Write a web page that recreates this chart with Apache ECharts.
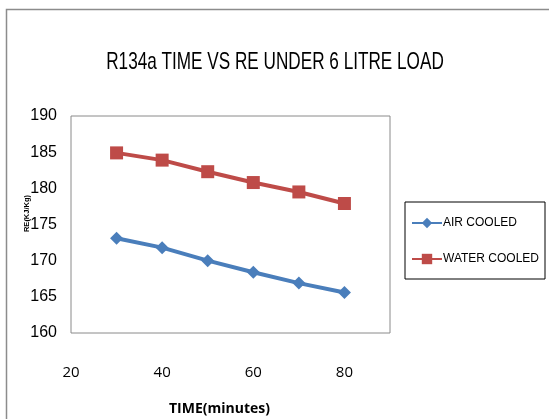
<!DOCTYPE html>
<html><head><meta charset="utf-8">
<script src="https://cdn.jsdelivr.net/npm/echarts@6/dist/echarts.min.js"></script>
<style>html,body{margin:0;padding:0;background:#fff}#c{width:549px;height:419px}</style>
</head><body><div id="c"></div>
<script>
const timeMinutes = [30, 40, 50, 60, 70, 80];
const airCooled = [173.1, 171.8, 170.0, 168.4, 166.9, 165.6];
const waterCooled = [184.9, 183.9, 182.3, 180.8, 179.5, 177.9];
const seriesNames = ['AIR COOLED', 'WATER COOLED'];
const titleText = 'R134a TIME VS RE UNDER 6 LITRE LOAD';

const chart = echarts.init(document.getElementById('c'));
const sans = '"Liberation Sans", Arial, sans-serif';
const humanist = '"Open Sans", "Liberation Sans", sans-serif';
chart.setOption({
  animation: false,
  backgroundColor: '#fff',
  graphic: [{
    type: 'rect', shape: {x: 6.5, y: 9.5, width: 600, height: 500},
    style: {fill: 'none', stroke: '#8c8c8c', lineWidth: 1.5}, silent: true, z: -1
  }, {
    type: 'text', x: 275, y: 62, scaleX: 0.715, silent: true,
    style: {text: titleText, fontFamily: sans, fontSize: 24, fill: '#000', align: 'center', verticalAlign: 'middle'}
  }],
  grid: {left: 71, right: 159, top: 116, bottom: 86, outerBoundsMode: 'none', containLabel: false,
    show: true, borderColor: '#8a8a8a', borderWidth: 1, backgroundColor: '#fff'},
  legend: {
    orient: 'vertical', left: 405, top: 202,
    padding: [15, 6, 14, 6], itemGap: 24,
    borderColor: '#000', borderWidth: 1,
    itemWidth: 30, itemHeight: 13,
    textStyle: {fontFamily: sans, fontSize: 12, color: '#000', padding: [0, 0, 0, -4]},
    data: seriesNames
  },
  xAxis: {
    type: 'value', min: 20, max: 90, interval: 20,
    name: 'TIME(minutes)', nameLocation: 'middle', nameGap: 69, nameMoveOverlap: false,
    nameTextStyle: {fontFamily: humanist, fontSize: 14, fontWeight: 'bold', color: '#000', padding: [0, 22, 0, 0]},
    axisLine: {show: false}, axisTick: {show: false}, splitLine: {show: false},
    axisLabel: {fontFamily: humanist, fontSize: 15, color: '#000', margin: 32, showMaxLabel: false}
  },
  yAxis: {
    type: 'value', min: 160, max: 190, interval: 5,
    name: 'RE(KJ/Kg)', nameLocation: 'middle', nameGap: 40, nameRotate: 90, nameMoveOverlap: false,
    nameTextStyle: {fontFamily: sans, fontSize: 7.5, fontWeight: 'bold', color: '#000', padding: [0, 0, 0, 22]},
    axisLine: {show: false}, axisTick: {show: false}, splitLine: {show: false},
    axisLabel: {fontFamily: sans, fontSize: 16, color: '#000', margin: 14}
  },
  series: [{
    name: seriesNames[0], type: 'line',
    data: timeMinutes.map((t, i) => [t, airCooled[i]]),
    symbol: 'diamond', symbolSize: 13,
    lineStyle: {color: '#4a7ebb', width: 4}, itemStyle: {color: '#4a7ebb'}
  }, {
    name: seriesNames[1], type: 'line',
    data: timeMinutes.map((t, i) => [t, waterCooled[i]]),
    symbol: 'rect', symbolSize: 13,
    lineStyle: {color: '#be4b48', width: 4}, itemStyle: {color: '#be4b48'}
  }]
});
</script></body></html>
